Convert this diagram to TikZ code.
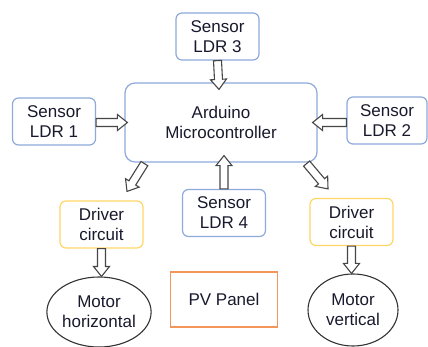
\documentclass[tikz,border=0pt]{standalone}
\usepackage{fontspec}
\setmainfont{Liberation Sans}
\usetikzlibrary{calc,shapes.geometric}

\definecolor{ldrblue}{RGB}{142,169,219}
\definecolor{drvyellow}{RGB}{255,214,102}
\definecolor{pvorange}{RGB}{244,150,90}
\definecolor{arrowgray}{RGB}{70,70,70}
\definecolor{inkdark}{RGB}{25,25,45}

\tikzset{
	sensorbox/.style={draw=ldrblue, line width=1.2pt, rounded corners=6pt, fill=white,
		minimum width=83pt, minimum height=47pt, inner sep=0pt, align=center},
	driverbox/.style={sensorbox, draw=drvyellow},
	pvbox/.style={draw=pvorange, line width=1.2pt, minimum width=107pt, minimum height=55pt, inner sep=0pt},
	motor/.style={ellipse, draw=black!80, line width=1.1pt, minimum width=90pt, minimum height=70pt,
		inner sep=0pt, align=center},
	fatarrow/.style={draw=arrowgray, fill=white, line width=1.1pt, line join=miter,
		to path={
			($(\tikztostart)!4pt!90:(\tikztotarget)$)
			-- ($($(\tikztotarget)!10pt!(\tikztostart)$)!4pt!90:(\tikztotarget)$)
			-- ($($(\tikztotarget)!10pt!(\tikztostart)$)!8pt!90:(\tikztotarget)$)
			-- (\tikztotarget)
			-- ($($(\tikztotarget)!10pt!(\tikztostart)$)!8pt!-90:(\tikztotarget)$)
			-- ($($(\tikztotarget)!10pt!(\tikztostart)$)!4pt!-90:(\tikztotarget)$)
			-- ($(\tikztostart)!4pt!-90:(\tikztotarget)$)
			-- cycle}}
}

\begin{document}
\begin{tikzpicture}[x=1pt,y=1pt,yscale=-1,xscale=1,font=\fontsize{17}{20}\selectfont,text=inkdark]
	\useasboundingbox (0,0) rectangle (428,347);
	
	% Controller
	\node [sensorbox, minimum width=192pt, minimum height=79pt, rounded corners=10pt] (mcu) at (221,122.5) {Arduino\\Microcontroller};
	
	% Sensors
	\node [sensorbox] (ldr3) at (217.5,36.5) {Sensor\\LDR 3};
	\node [sensorbox] (ldr1) at (54,121.5) {Sensor\\LDR 1};
	\node [sensorbox, minimum width=80pt] (ldr2) at (387,120.5) {Sensor\\LDR 2};
	\node [sensorbox] (ldr4) at (224,213) {Sensor\\LDR 4};
	
	% Drivers and motors
	\node [driverbox] (drvl) at (101.5,224.5) {Driver\\circuit};
	\node [driverbox] (drvr) at (351.5,222) {Driver\\circuit};
	\node [motor] (moth) at (99,312) {Motor\\horizontal};
	\node [motor, minimum height=72pt] (motv) at (353,310) {Motor\\vertical};
	
	% Panel
	\node [pvbox] (pv) at (224,299.5) {PV Panel};
	
	% Arrows
	\draw [fatarrow] (ldr3.south) to ($(mcu.north)+(-2,7)$);
	\draw [fatarrow] (ldr1.east |- mcu.west) to ($(mcu.west)+(3,0)$);
	\draw [fatarrow] (ldr2.west |- mcu.east) to ($(mcu.east)+(-5,0)$);
	\draw [fatarrow] (ldr4.north) to ($(ldr4.north |- mcu.south)+(0,-7)$);
	\draw [fatarrow] ($(mcu.south west)+(20,1)$) to ($(drvl.north)+(25.5,-9)$);
	\draw [fatarrow] ($(mcu.south east)+(-11,1)$) to ($(drvr.north)+(-23.5,-9)$);
	\draw [fatarrow] (drvl.south) to (drvl.south |- moth.north);
	\draw [fatarrow] (drvr.south) to (drvr.south |- motv.north);
	
\end{tikzpicture}
\end{document}
